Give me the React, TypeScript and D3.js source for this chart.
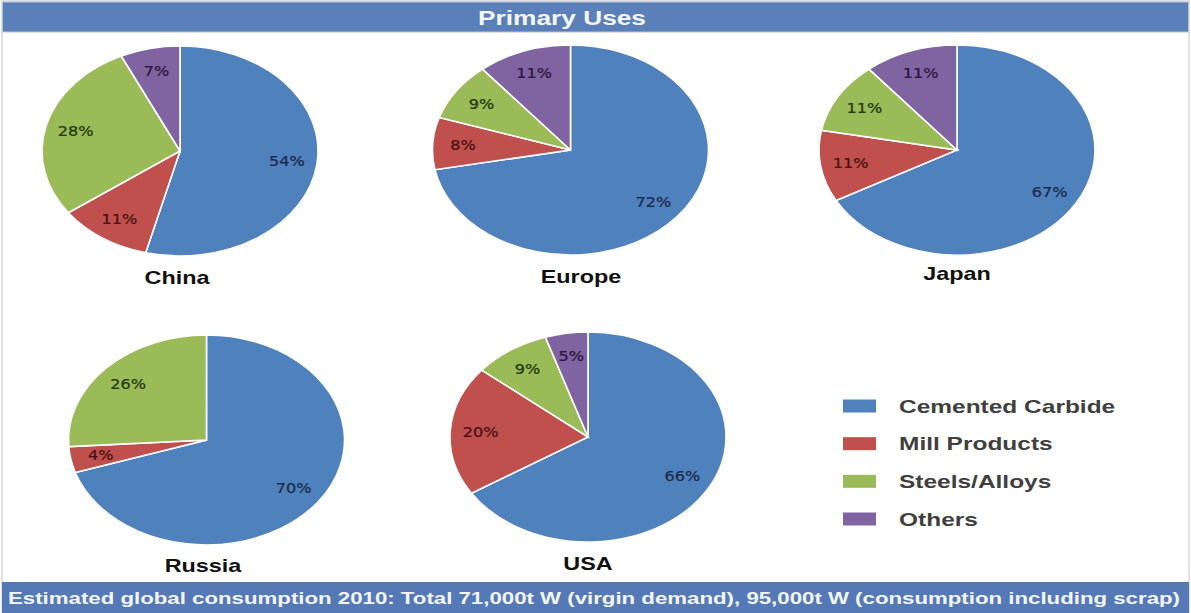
import React from "react";
import * as d3 from "d3";

const categories = ["Cemented Carbide", "Mill Products", "Steels/Alloys", "Others"];
const colors = ["#4F81BD", "#C0504D", "#9BBB59", "#8064A2"];
const labelColors = ["#1c2a4a", "#4a1212", "#263810", "#2a1840"];

const countries = ["China", "Europe", "Japan", "Russia", "USA"];
const chinaValues = [54, 11, 28, 7];
const europeValues = [72, 8, 9, 11];
const japanValues = [67, 11, 11, 11];
const russiaValues = [70, 4, 26, 0];
const usaValues = [66, 20, 9, 5];

const titleText = "Primary Uses";
const footerText =
  "Estimated global consumption 2010: Total 71,000t W (virgin demand), 95,000t W (consumption including scrap)";

const W = 1191;
const H = 613;
const RX = 138;
const RY = 105;

const layout = [
  { cx: 180, cy: 151, lx: 177, ly: 284 },
  { cx: 570.5, cy: 150, lx: 581, ly: 283 },
  { cx: 957, cy: 150, lx: 957, ly: 280 },
  { cx: 206.5, cy: 440, lx: 203, ly: 572 },
  { cx: 588, cy: 437, lx: 588, ly: 570 },
];

const allValues = [chinaValues, europeValues, japanValues, russiaValues, usaValues];

const pieGen = d3
  .pie<number>()
  .sort(null)
  .value((d) => d)
  .startAngle(0)
  .endAngle(2 * Math.PI);

const arcGen = d3.arc<d3.PieArcDatum<number>>().innerRadius(0).outerRadius(RY);

function Pie({ values, idx }: { values: number[]; idx: number }) {
  const { cx, cy, lx, ly } = layout[idx];
  const arcs = pieGen(values);
  const k = 0.78;
  return (
    <g>
      <g transform={`translate(${cx},${cy}) scale(${RX / RY},1)`}>
        {arcs.map((a, i) =>
          a.value > 0 ? (
            <path
              key={i}
              d={arcGen(a) || ""}
              fill={colors[i]}
              stroke="#ffffff"
              strokeWidth={1.6}
              vectorEffect="non-scaling-stroke"
            />
          ) : null
        )}
      </g>
      {arcs.map((a, i) => {
        if (a.value <= 0) return null;
        const m = (a.startAngle + a.endAngle) / 2;
        const x = cx + Math.sin(m) * RX * k;
        const y = cy - Math.cos(m) * RY * k;
        return (
          <text
            key={"l" + i}
            transform={`translate(${x},${y + 5}) scale(1.15,1)`}
            textAnchor="middle"
            fontFamily="DejaVu Sans, Verdana, sans-serif"
            fontSize={14}
            fill={labelColors[i]}
            stroke={labelColors[i]}
            strokeWidth={0.25}
          >
            {`${a.value}%`}
          </text>
        );
      })}
      <text
        transform={`translate(${lx},${ly}) scale(1.3,1)`}
        textAnchor="middle"
        fontFamily="Liberation Sans, Arial, sans-serif"
        fontWeight="bold"
        fontSize={18}
        fill="#111111"
      >
        {countries[idx]}
      </text>
    </g>
  );
}

const legendY = d3.scalePoint<string>().domain(categories).range([406, 519]);

export default function App() {
  return (
    <svg
      width={W}
      height={H}
      viewBox={`0 0 ${W} ${H}`}
      style={{ position: "absolute", left: 0, top: 0, display: "block" }}
    >
      <rect x={0} y={0} width={W} height={H} fill="#ffffff" />
      <rect x={2} y={1} width={W - 4} height={H - 2} fill="#ffffff" stroke="#c8ccd2" strokeWidth={1.2} />
      <rect x={2.5} y={2} width={W - 5} height={30} fill="#5b80b9" stroke="#b8c4d4" strokeWidth={1} />
      <text
        x={562}
        y={24.5}
        textAnchor="middle"
        fontFamily="Liberation Sans, Arial, sans-serif"
        fontWeight="bold"
        fontSize={20}
        fill="#f4f7fb"
        textLength={168}
        lengthAdjust="spacingAndGlyphs"
      >
        {titleText}
      </text>
      {allValues.map((v, i) => (
        <Pie key={i} values={v} idx={i} />
      ))}
      {categories.map((c, i) => {
        const y = legendY(c) as number;
        return (
          <g key={c}>
            <rect x={843} y={y - 6.5} width={33} height={13} fill={colors[i]} />
            <text
              transform={`translate(899,${y + 6.5}) scale(1.4,1)`}
              fontFamily="Liberation Sans, Arial, sans-serif"
              fontWeight="bold"
              fontSize={17.5}
              fill="#404040"
            >
              {c}
            </text>
          </g>
        );
      })}
      <rect x={2} y={582} width={W - 4} height={31} fill="#5479b5" />
      <text
        x={8}
        y={604}
        fontFamily="Liberation Sans, Arial, sans-serif"
        fontWeight="bold"
        fontSize={17}
        fill="#f2f6fb"
        textLength={1172}
        lengthAdjust="spacingAndGlyphs"
      >
        {footerText}
      </text>
    </svg>
  );
}
